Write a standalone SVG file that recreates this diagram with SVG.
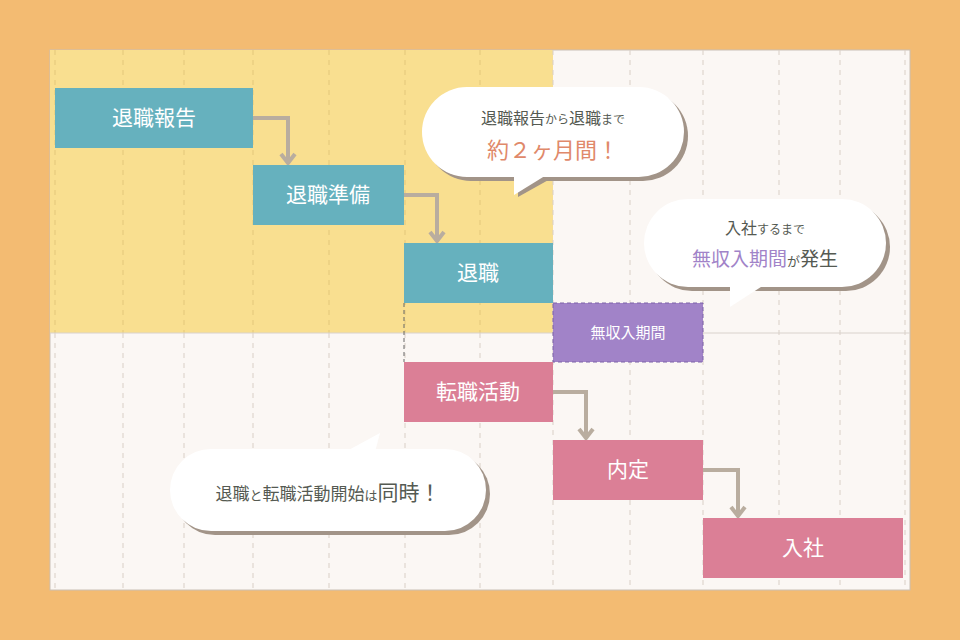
<svg xmlns="http://www.w3.org/2000/svg" width="960" height="640" viewBox="0 0 960 640">
<defs>
<style>
.g{stroke:#d9cfc6;stroke-width:1;stroke-dasharray:5,5}
.gy{stroke:#e3c77a;stroke-width:1;stroke-dasharray:5,5}
.t{font-family:"Noto Sans CJK JP",sans-serif;fill:#fff;font-size:21px;text-anchor:middle}
.c{fill:none;stroke:#b9ad9f;stroke-width:4}
.b{fill:#fff}
.s{fill:#a29488}
.bt{font-family:"Noto Sans CJK JP",sans-serif;fill:#555a52;text-anchor:middle}
</style>
<marker id="a" viewBox="0 0 10 10" refX="5" refY="8" markerWidth="4" markerHeight="4" orient="auto-start-reverse" markerUnits="userSpaceOnUse"><path d="M0,0 L5,8 L10,0" fill="none"/></marker>
</defs>
<rect width="960" height="640" fill="#f3bb72"/>
<rect x="50" y="50" width="860" height="540" fill="#fbf7f4" stroke="#c9bfb5"/>
<rect x="50" y="50" width="503" height="283" fill="#f9df90"/>
<g id="grid">
<g class="gy"><line x1="55" y1="50" x2="55" y2="333"/><line x1="123" y1="50" x2="123" y2="333"/><line x1="184" y1="50" x2="184" y2="333"/><line x1="253" y1="50" x2="253" y2="333"/><line x1="329" y1="50" x2="329" y2="333"/><line x1="405" y1="50" x2="405" y2="333"/><line x1="480" y1="50" x2="480" y2="333"/></g>
<g class="g"><line x1="55" y1="333" x2="55" y2="590"/><line x1="123" y1="333" x2="123" y2="590"/><line x1="184" y1="333" x2="184" y2="590"/><line x1="253" y1="333" x2="253" y2="590"/><line x1="329" y1="333" x2="329" y2="590"/><line x1="405" y1="333" x2="405" y2="590"/><line x1="480" y1="333" x2="480" y2="590"/>
<line x1="553" y1="50" x2="553" y2="590"/><line x1="630" y1="50" x2="630" y2="590"/><line x1="703" y1="50" x2="703" y2="590"/><line x1="779" y1="50" x2="779" y2="590"/><line x1="840" y1="50" x2="840" y2="590"/><line x1="905" y1="50" x2="905" y2="590"/></g>
<line x1="50" y1="333" x2="910" y2="333" stroke="#d9d2cc"/>
<line x1="404" y1="303" x2="404" y2="362" stroke="#666" stroke-dasharray="4,3"/>
</g>
<g id="connectors">
<path class="c" d="M253,118 H288 V160" marker-end="url(#a)" stroke="#b9ad9f"/>
<path class="c" d="M404,195 H437 V238"/>
<path class="c" d="M553,392 H586 V435"/>
<path class="c" d="M703,470 H738 V513"/>
<g fill="none" stroke="#b9ad9f" stroke-width="4"><path d="M281,154 L288,163 L295,154"/><path d="M430,232 L437,241 L444,232"/><path d="M579,429 L586,438 L593,429"/><path d="M731,507 L738,516 L745,507"/></g>
</g>
<g id="n1"><rect x="55" y="88" width="198" height="60" fill="#66b1be"/><text class="t" x="154" y="125">退職報告</text></g>
<g id="n2"><rect x="253" y="165" width="151" height="60" fill="#66b1be"/><text class="t" x="328" y="202">退職準備</text></g>
<g id="n3"><rect x="404" y="243" width="149" height="60" fill="#66b1be"/><text class="t" x="478" y="280">退職</text></g>
<g id="n4"><rect x="553" y="303" width="150" height="59" fill="#a183c8" stroke="#7d62a8" stroke-dasharray="4,3"/><text class="t" x="628" y="338" style="font-size:15px">無収入期間</text></g>
<g id="n5"><rect x="404" y="362" width="149" height="60" fill="#db7f96"/><text class="t" x="478" y="399">転職活動</text></g>
<g id="n6"><rect x="553" y="440" width="150" height="60" fill="#db7f96"/><text class="t" x="628" y="477">内定</text></g>
<g id="n7"><rect x="703" y="518" width="200" height="60" fill="#db7f96"/><text class="t" x="803" y="555">入社</text></g>
<g id="bubble1">
<rect class="s" x="426" y="91" width="262" height="90" rx="45"/>
<path class="s" d="M518,178 L518,197 L552,178Z"/>
<rect class="b" x="422" y="87" width="262" height="90" rx="45"/>
<path class="b" d="M514,174 L514,195 L548,174Z"/>
<text class="bt" x="553" y="124" font-size="16">退職報告<tspan font-size="12">から</tspan>退職<tspan font-size="12">まで</tspan></text>
<text class="bt" x="553" y="158" font-size="22" fill="#e0896a" style="fill:#e0896a">約２ヶ月間！</text>
</g>
<g id="bubble2">
<rect class="s" x="648" y="203" width="242" height="88" rx="44"/>
<rect class="b" x="644" y="199" width="242" height="88" rx="44"/>
<path class="b" d="M730,285 L730,307 L764,285Z"/>
<text class="bt" x="765" y="234" font-size="16">入社<tspan font-size="12">するまで</tspan></text>
<text class="bt" x="765" y="266" font-size="19"><tspan style="fill:#a183c8">無収入期間</tspan><tspan font-size="13">が</tspan>発生</text>
</g>
<g id="bubble3">
<rect class="s" x="174" y="453" width="316" height="82" rx="41"/>
<rect class="b" x="170" y="449" width="316" height="82" rx="41"/>
<path class="b" d="M345,452 L380,433 L375,452Z"/>
<text class="bt" x="328" y="500" font-size="17">退職<tspan font-size="13">と</tspan>転職活動開始<tspan font-size="13">は</tspan><tspan font-size="21">同時！</tspan></text>
</g>
</svg>
